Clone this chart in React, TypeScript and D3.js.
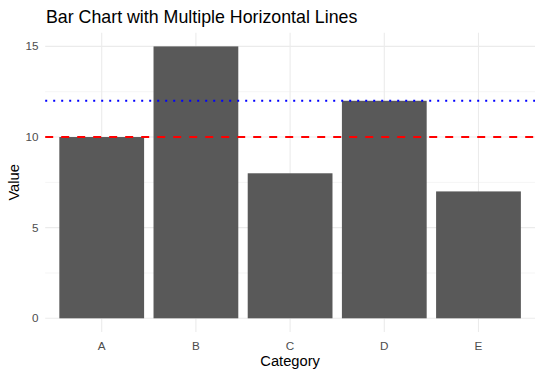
import React from "react";
import * as d3 from "d3";

const categories = ["A", "B", "C", "D", "E"];
const values = [10, 15, 8, 12, 7];
const yTicks = [0, 5, 10, 15];
const yMinor = [2.5, 7.5, 12.5];
const refLines = [
  { value: 10, color: "#FF0000", dash: "8,8" },
  { value: 12, color: "#0000FF", dash: "2,6" },
];

const W = 542;
const H = 377;
const panel = { left: 45.2, right: 535, top: 32.8, bottom: 331.9 };

export default function App() {
  const x = d3
    .scaleBand<string>()
    .domain(categories)
    .range([panel.left, panel.right])
    .paddingInner(0.1)
    .paddingOuter(0.15);
  const xc = (c: string) => (x(c) as number) + x.bandwidth() / 2;
  const bw = x.bandwidth();
  const y = d3.scaleLinear().domain([-0.75, 15.75]).range([panel.bottom, panel.top]);
  const font = "'Liberation Sans', Arial, sans-serif";
  return (
    <svg width={W} height={H} style={{ position: "absolute", left: 0, top: 0, background: "#fff" }} fontFamily={font}>
      {yMinor.map((t) => (
        <line key={"m" + t} x1={panel.left} x2={panel.right} y1={y(t)} y2={y(t)} stroke="#EBEBEB" strokeWidth={0.55} />
      ))}
      {yTicks.map((t) => (
        <line key={"g" + t} x1={panel.left} x2={panel.right} y1={y(t)} y2={y(t)} stroke="#EBEBEB" strokeWidth={1.1} />
      ))}
      {categories.map((c) => (
        <line key={"v" + c} x1={xc(c)} x2={xc(c)} y1={panel.top} y2={panel.bottom} stroke="#EBEBEB" strokeWidth={1.1} />
      ))}
      {categories.map((c, i) => (
        <rect key={"b" + c} x={xc(c) - bw / 2} width={bw} y={y(values[i])} height={y(0) - y(values[i])} fill="#595959" />
      ))}
      {refLines.map((r) => (
        <line key={"r" + r.value} x1={panel.left} x2={panel.right} y1={y(r.value)} y2={y(r.value)} stroke={r.color} strokeWidth={2.1} strokeDasharray={r.dash} />
      ))}
      {yTicks.map((t) => (
        <text key={"yt" + t} x={38.5} y={y(t)} dy="0.35em" textAnchor="end" fontSize={11.7} fill="#4D4D4D">
          {t}
        </text>
      ))}
      {categories.map((c) => (
        <text key={"xt" + c} x={xc(c)} y={350} textAnchor="middle" fontSize={11.7} fill="#4D4D4D">
          {c}
        </text>
      ))}
      <text x={(panel.left + panel.right) / 2} y={366} textAnchor="middle" fontSize={14.7} fill="#000">
        Category
      </text>
      <text transform={`translate(19,${(panel.top + panel.bottom) / 2}) rotate(-90)`} textAnchor="middle" fontSize={14.7} fill="#000">
        Value
      </text>
      <text x={46} y={23} fontSize={17.8} fill="#000">
        Bar Chart with Multiple Horizontal Lines
      </text>
    </svg>
  );
}
